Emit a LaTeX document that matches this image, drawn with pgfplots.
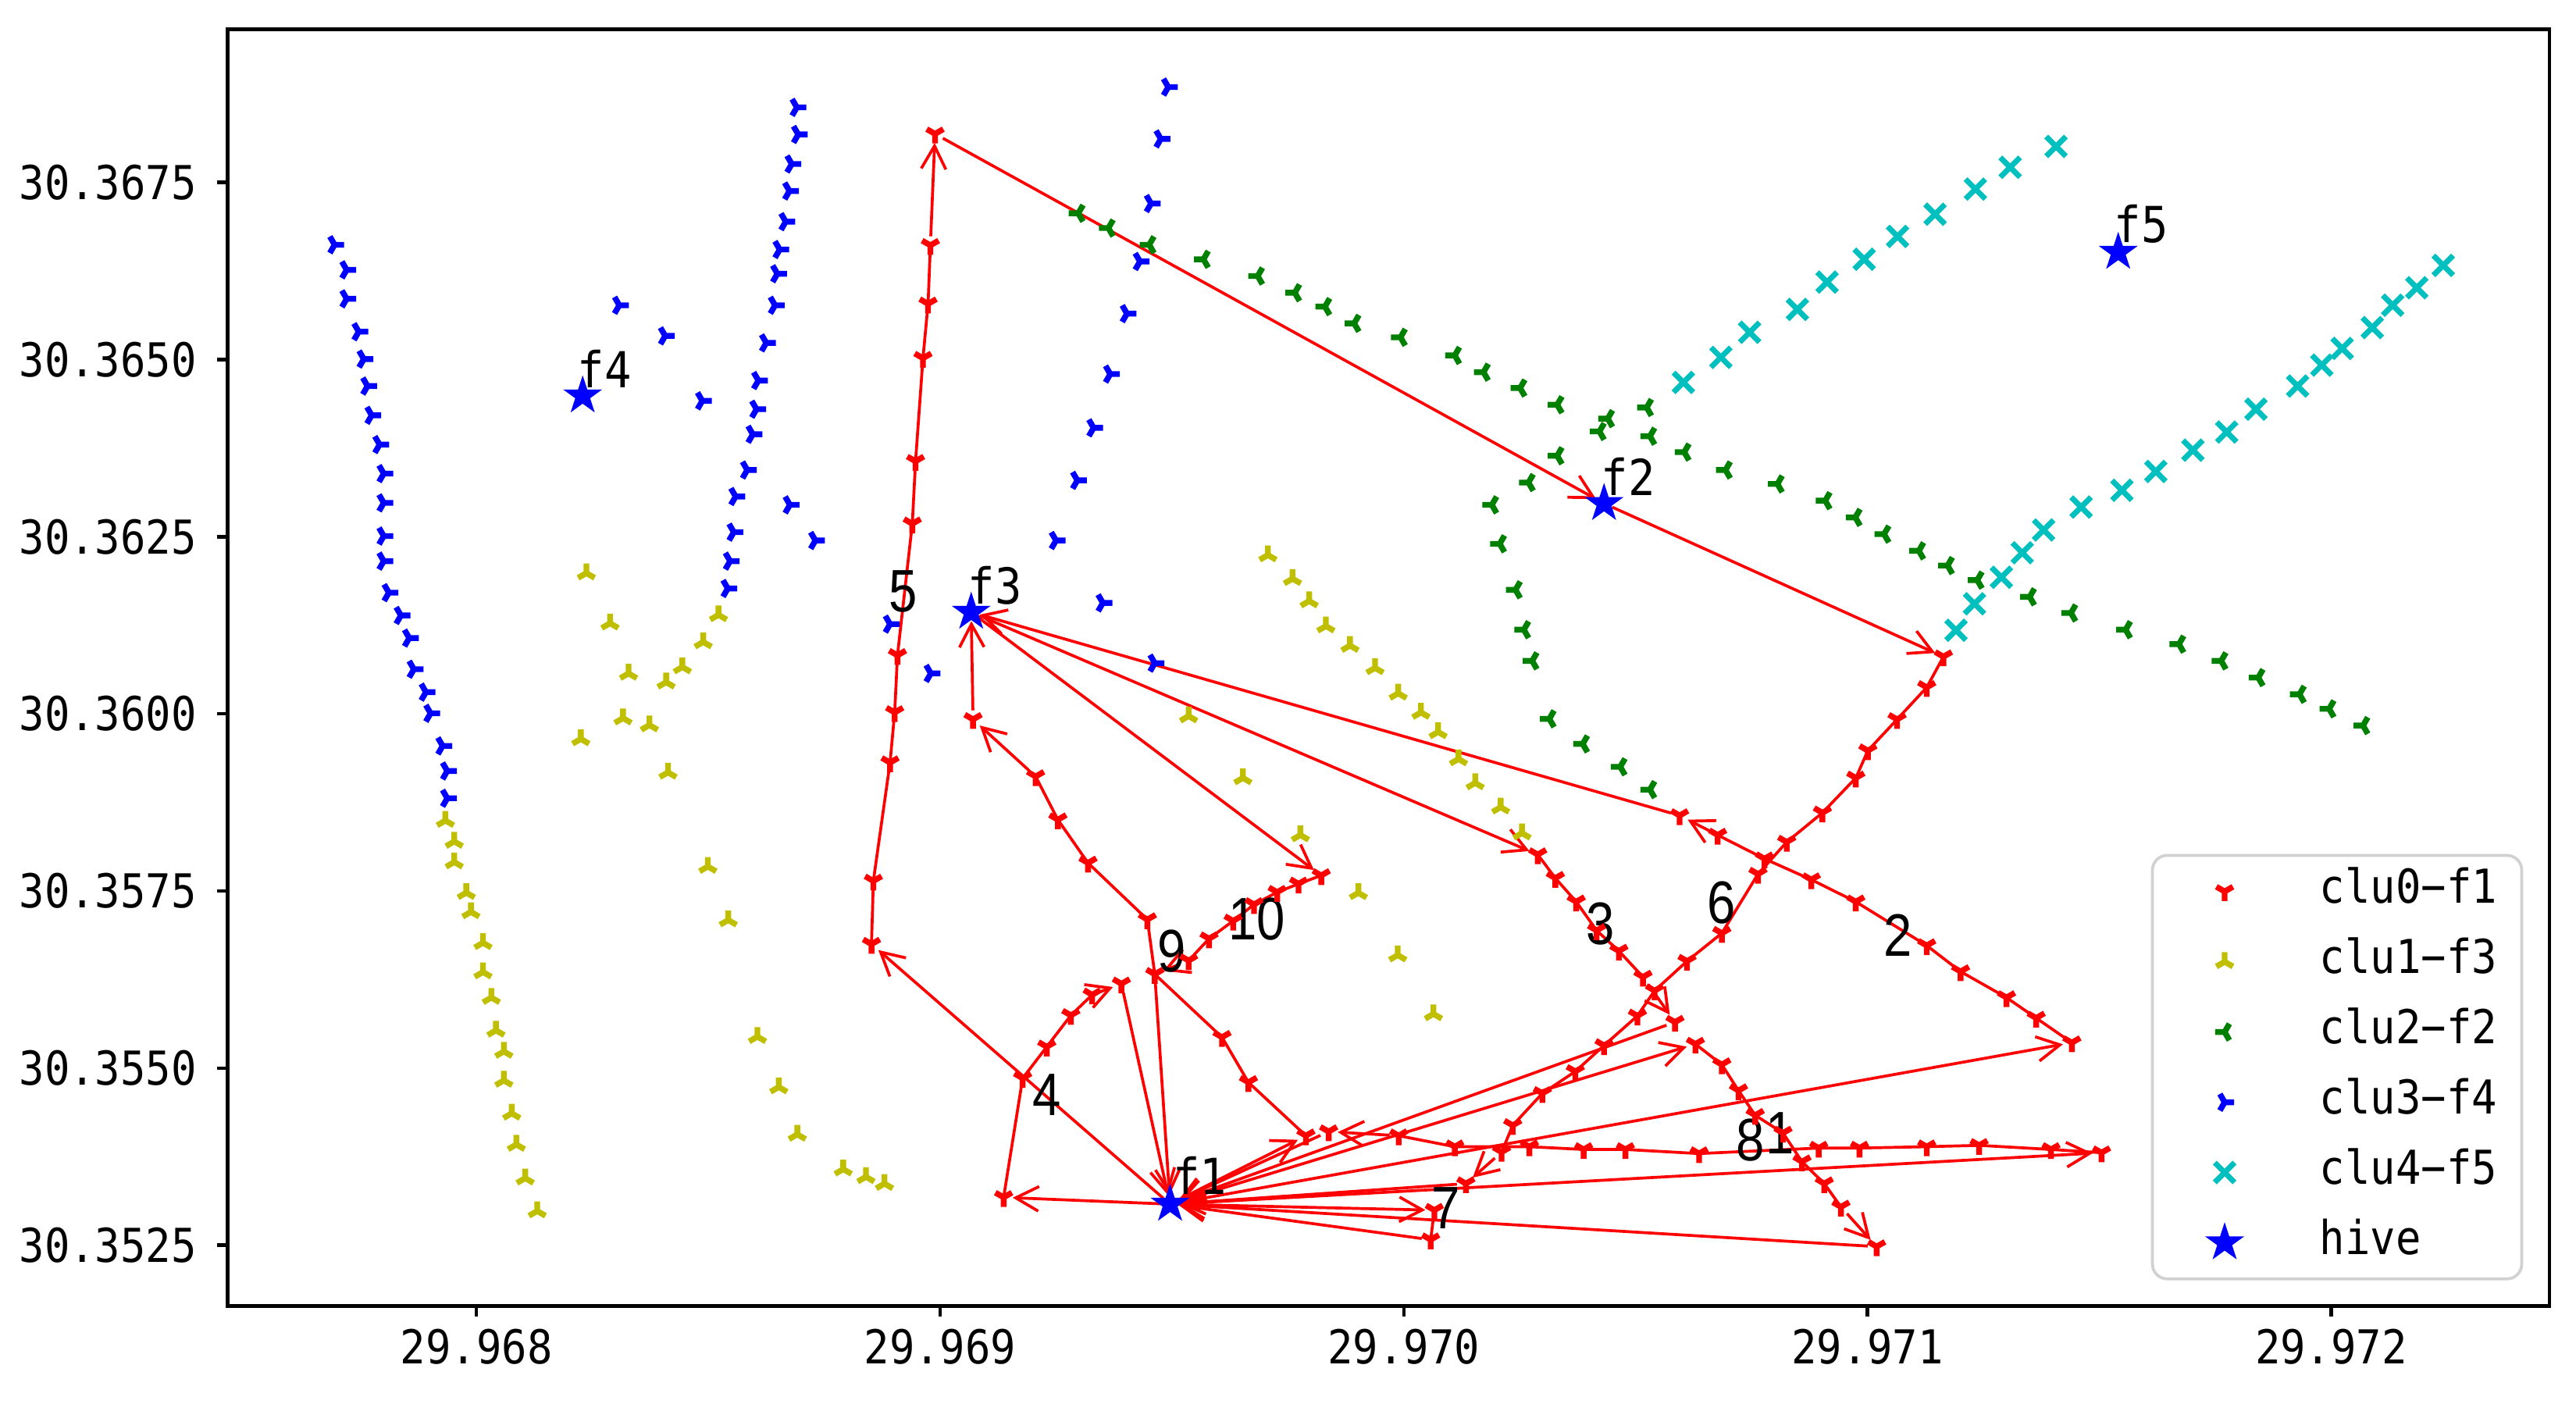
\documentclass[border=0pt]{standalone}
\usepackage{fontspec}
\usepackage{pgfplots}
\pgfplotsset{compat=1.18}
\usetikzlibrary{arrows.meta,plotmarks}
\setmainfont{Liberation Sans}
\newfontfamily\monofnt[FakeStretch=0.9]{DejaVu Sans Mono}
\newfontfamily\labfnt[FakeStretch=0.85]{Liberation Sans}
\newcommand\tickfont{\monofnt\fontsize{8.1pt}{9.7pt}\selectfont}
\newcommand\hivefont{\monofnt\fontsize{8.6pt}{10pt}\selectfont}
\newcommand\routefont{\labfnt\fontsize{10.4pt}{12pt}\selectfont}

\definecolor{mplr}{rgb}{1,0,0}
\definecolor{mply}{rgb}{0.75,0.75,0}
\definecolor{mplg}{rgb}{0,0.5,0}
\definecolor{mplb}{rgb}{0,0,1}
\definecolor{mplc}{rgb}{0,0.75,0.75}

% filled five-pointed star (matplotlib '*')
\pgfdeclareplotmark{hstar}{%
  \pgfpathmoveto{\pgfpointpolar{90}{\pgfplotmarksize}}%
  \pgfpathlineto{\pgfpointpolar{126}{0.382\pgfplotmarksize}}%
  \pgfpathlineto{\pgfpointpolar{162}{\pgfplotmarksize}}%
  \pgfpathlineto{\pgfpointpolar{198}{0.382\pgfplotmarksize}}%
  \pgfpathlineto{\pgfpointpolar{234}{\pgfplotmarksize}}%
  \pgfpathlineto{\pgfpointpolar{270}{0.382\pgfplotmarksize}}%
  \pgfpathlineto{\pgfpointpolar{306}{\pgfplotmarksize}}%
  \pgfpathlineto{\pgfpointpolar{342}{0.382\pgfplotmarksize}}%
  \pgfpathlineto{\pgfpointpolar{18}{\pgfplotmarksize}}%
  \pgfpathlineto{\pgfpointpolar{54}{0.382\pgfplotmarksize}}%
  \pgfpathclose
  \pgfusepathqfill
}

% coordinates: x = (lon - 29.968) * 1e6, y = (lat - 30.35) * 1e6
\pgfplotsset{
  route/.style={mplr, line width=0.5pt, no marks, forget plot},
  hop/.style={route, -{Straight Barb[length=1.4mm,width=1.5mm]},
    shorten >=0.55mm, shorten <=0.55mm},
  tri/.style={only marks, mark=Mercedes star, mark size=0.58mm,
    mark options={line width=1.0pt, rotate=#1}},
  tri/.default=0,
}
\newcommand\hop[2]{\addplot[hop] coordinates {(#1) (#2)};}

\begin{document}
\begin{tikzpicture}
\begin{axis}[
  scale only axis, width=141.45mm, height=77.76mm,
  xmin=-537, xmax=4471, ymin=1643, ymax=19659,
  scaled ticks=false,
  xtick={0,1000,2000,3000,4000},
  xticklabels={29.968,29.969,29.970,29.971,29.972},
  ytick={2500,5000,7500,10000,12500,15000,17500},
  yticklabels={30.3525,30.3550,30.3575,30.3600,30.3625,30.3650,30.3675},
  tick pos=left, tick align=outside, major tick length=0.65mm,
  tick style={line width=0.6pt, black},
  axis line style={line width=0.65pt},
  ticklabel style={font=\tickfont},
  xticklabel style={yshift=0.5mm},
  legend style={at={(axis description cs:0.9887,0.0201)}, anchor=south east,
    draw=black!18, line width=0.5pt, rounded corners=0.9mm, fill=white,
    font=\tickfont, inner xsep=1.5mm, inner ysep=0.95mm,
    column sep=2.9mm, row sep=1.78mm,
    nodes={inner sep=0pt, text height=1.95mm, text depth=0.55mm}},
  legend cell align=left,
  legend image code/.code={\path[draw=none,fill=none] (0mm,-1.25mm) rectangle (5.8mm,1.25mm);
    \draw[#1] plot coordinates {(2.9mm,0mm)};},
]

% clu0-f1 visited points
\addplot[tri, mplr, mark=Mercedes star flipped] coordinates {
 (852,6750) (856,7641) (892,9312) (902,10020) (908,10826) (940,12683)
 (947,13565) (963,15020) (974,15787) (979,16613) (989,18186)
 (3164,10807) (3128,10374) (3064,9922) (3001,9481) (2975,9096) (2903,8604)
 (2826,8191) (2764,7739) (2686,6904) (2611,6510) (2541,6093) (2504,5738)
 (2432,5320) (2370,4953) (2299,4644) (2235,4192) (2211,3814) (2134,3370)
 (3441,5359) (3364,5707) (3300,5996) (3201,6363) (3128,6730) (2975,7348)
 (2879,7660) (2778,7955) (2677,8290) (2595,8565)
 (2289,8014) (2327,7681) (2372,7348) (2416,6943) (2464,6653) (2516,6286) (2585,5649)
 (2629,5340) (2686,5050) (2722,4683) (2758,4335) (2818,4084) (2859,3679)
 (2907,3370) (2943,3041) (3020,2481)
 (3505,3806) (3396,3852) (3241,3910) (3128,3891) (2983,3872) (2895,3872)
 (2637,3794) (2478,3852) (2388,3852) (2271,3891) (2110,3891) (1989,4046) (1838,4104)
 (1789,4046) (1665,4799) (1608,5436) (1463,6325)
 (1822,7719) (1773,7601) (1727,7483) (1677,7310) (1632,7078) (1580,6827)
 (1536,6518) (1447,7097) (1319,7896) (1254,8506) (1206,9116) (1071,9922)
 (1137,3176) (1178,4857) (1230,5301) (1282,5745) (1328,6035) (1391,6190)
 (2066,2995) (2058,2578)
};
\addlegendentry{clu0−f1}

% clu1-f3
\addplot[tri, mply] coordinates {
 (237,11987) (288,11279) (328,10571) (409,10447) (444,10661) (489,11015)
 (522,11397) (316,9940) (373,9842) (225,9646) (413,9174) (-67,8494)
 (-48,8199) (-48,7908) (499,7845) (-22,7476) (-12,7205) (14,6769) (14,6356)
 (32,5996) (42,5533) (59,5235) (59,4826) (76,4362) (86,3922) (105,3447)
 (131,2983) (543,7090) (606,5444) (652,4733) (692,4065) (791,3574)
 (840,3466) (880,3370) (1902,7474) (1987,6595) (2064,5765)
 (1707,12242) (1760,11908) (1796,11593) (1832,11239) (1884,10964)
 (1938,10649) (1988,10290) (1536,9969) (1653,9096) (1777,8290)
 (2037,10020) (2074,9745) (2118,9363) (2154,9025) (2209,8683) (2255,8317)
};
\addlegendentry{clu1−f3}

% clu2-f2
\addplot[tri=90, mplg] coordinates {
 (1298,17065) (1363,16857) (1451,16621) (1568,16416) (1685,16180)
 (1765,15944) (1830,15748) (1893,15512) (1993,15315) (2110,15059)
 (2172,14823) (2251,14599) (2331,14363) (2440,14167) (2524,14324)
 (2422,13986) (2531,13919) (2331,13643) (2605,13695) (2694,13442)
 (2806,13245) (2909,13009) (2974,12773) (3036,12537) (3111,12301)
 (3173,12093) (3237,11888) (3350,11652) (3439,11424) (3557,11188)
 (3672,10984) (3763,10748) (3843,10512) (3932,10276) (3996,10071)
 (4069,9835) (2269,13265) (2190,12950) (2207,12400) (2241,11751)
 (2259,11188) (2277,10748) (2314,9930) (2386,9576) (2467,9253) (2531,8931)
};
\addlegendentry{clu2−f2}

% clu3-f4
\addplot[tri=-90, mplb] coordinates {
 (-306,16621) (-280,16267) (-280,15858) (-254,15394) (-243,15008)
 (-235,14627) (-226,14214) (-209,13801) (-200,13391) (-200,12978)
 (-200,12510) (-200,12156) (-189,11711) (-163,11389) (-145,11070)
 (-135,10630) (-109,10307) (-99,10008) (-73,9548) (-63,9194) (-63,8809)
 (691,18560) (694,18178) (680,17761) (675,17380) (667,16947) (654,16554)
 (649,16212) (644,15767) (625,15236) (608,14705) (604,14300) (596,13946)
 (584,13442) (559,13068) (555,12565) (547,12156) (542,11770)
 (308,15767) (407,15335) (487,14418) (676,12950) (731,12447)
 (1492,18847) (1476,18115) (1455,17203) (1431,16385) (1403,15649)
 (1367,14796) (1331,14037) (1296,13296) (1250,12447) (1351,11566)
 (1463,10716) (980,10571) (892,11267)
};
\addlegendentry{clu3−f4}

% clu4-f5
\addplot[only marks, mplc, mark=x, mark size=0.85mm, mark options={line width=0.95pt}] coordinates {
 (2603,14678) (2684,15032) (2746,15386) (2849,15708) (2913,16094)
 (2993,16416) (3065,16739) (3146,17053) (3233,17407) (3308,17714) (3407,18009)
 (3702,13722) (3775,13978) (3838,14300) (3928,14627) (3980,14922)
 (4024,15158) (4089,15453) (4133,15767) (4185,16015) (4242,16330)
 (3622,13422) (3549,13155) (3461,12919) (3380,12596) (3334,12274)
 (3289,11928) (3231,11554) (3191,11180)
};
\addlegendentry{clu4−f5}

% route chains
\addplot[route] coordinates {(852,6750) (856,7641) (892,9312) (902,10020) (908,10826)
 (940,12683) (947,13565) (963,15020) (974,15787) (979,16613)};
\addplot[route] coordinates {(3164,10807) (3128,10374) (3064,9922) (3001,9481) (2975,9096)
 (2903,8604) (2826,8191) (2764,7739) (2686,6904) (2611,6510) (2541,6093) (2504,5738)
 (2432,5320) (2370,4953) (2299,4644) (2235,4192) (2211,3814)};
\addplot[route] coordinates {(3441,5359) (3364,5707) (3300,5996) (3201,6363) (3128,6730)
 (2975,7348) (2879,7660) (2778,7955) (2677,8290)};
\addplot[route] coordinates {(2289,8014) (2327,7681) (2372,7348) (2416,6943) (2464,6653) (2516,6286)};
\addplot[route] coordinates {(2629,5340) (2686,5050) (2722,4683) (2758,4335) (2818,4084)
 (2859,3679) (2907,3370) (2943,3041)};
\addplot[route] coordinates {(3505,3806) (3396,3852) (3241,3910) (3128,3891) (2983,3872)
 (2895,3872) (2637,3794) (2478,3852) (2388,3852) (2271,3891) (2110,3891) (1989,4046)};
\addplot[route] coordinates {(1789,4046) (1665,4799) (1608,5436) (1463,6325)};
\addplot[route] coordinates {(1822,7719) (1773,7601) (1727,7483) (1677,7310) (1632,7078)
 (1580,6827) (1536,6518)};
\addplot[route] coordinates {(1463,6325) (1447,7097) (1319,7896) (1254,8506) (1206,9116)};
\addplot[route] coordinates {(1137,3176) (1178,4857) (1230,5301) (1282,5745) (1328,6035)};
\addplot[route] coordinates {(2066,2995) (2058,2578)};

% hops between hives and route ends
\hop{1496,3080}{852,6750}
\hop{979,16613}{989,18186}
\hop{989,18186}{2432,12970}
\hop{2432,12970}{3164,10807}
\hop{2211,3814}{2134,3370}
\hop{2134,3370}{1496,3080}
\hop{1496,3080}{3441,5359}
\hop{2677,8290}{2595,8565}
\hop{2595,8565}{1067,11436}
\hop{1067,11436}{2289,8014}
\hop{2516,6286}{2585,5649}
\hop{2585,5649}{1496,3080}
\hop{1496,3080}{2629,5340}
\hop{2943,3041}{3020,2481}
\hop{3020,2481}{1496,3080}
\hop{1496,3080}{3505,3806}
\hop{1989,4046}{1838,4104}
\hop{1838,4104}{1496,3080}
\hop{1496,3080}{1789,4046}
\hop{1463,6325}{1496,3080}
\hop{1067,11436}{1822,7719}
\hop{1536,6518}{1463,6325}
\hop{1206,9116}{1071,9922}
\hop{1071,9922}{1067,11436}
\hop{1496,3080}{1137,3176}
\hop{1328,6035}{1391,6190}
\hop{1391,6190}{1496,3080}
\hop{1496,3080}{2066,2995}
\hop{2058,2578}{1496,3080}

% hives
\addplot[only marks, mplb, mark=hstar, mark size=1.25mm] coordinates {
 (1496,3080) (2432,12970) (1067,11436) (229,14489) (3541,16515)
};
\addlegendentry{hive}

\begin{scope}[every node/.style={anchor=base west, inner sep=0pt}]
\node[font=\hivefont] at (axis cs:1500,3216) {f1};
\node[font=\hivefont] at (axis cs:2424,13088) {f2};
\node[font=\hivefont] at (axis cs:1058,11553) {f3};
\node[font=\hivefont] at (axis cs:216,14607) {f4};
\node[font=\hivefont] at (axis cs:3530,16652) {f5};
\node[font=\routefont] at (axis cs:888,11436) {5};
\node[font=\routefont] at (axis cs:1197,4335) {4};
\node[font=\routefont] at (axis cs:1467,6364) {9};
\node[font=\routefont] at (axis cs:1620,6808) {10};
\node[font=\routefont] at (axis cs:2392,6749) {3};
\node[font=\routefont] at (axis cs:2653,7040) {6};
\node[font=\routefont] at (axis cs:3032,6576) {2};
\node[font=\routefont] at (axis cs:2714,3697) {8};
\node[font=\routefont] at (axis cs:2778,3794) {1};
\node[font=\routefont] at (axis cs:2057,2731) {7};
\end{scope}
\end{axis}
\path ([xshift=-13.75mm,yshift=-5.94mm]current axis.south west)
  rectangle ([xshift=1.62mm,yshift=1.8mm]current axis.north east);
\end{tikzpicture}
\end{document}
